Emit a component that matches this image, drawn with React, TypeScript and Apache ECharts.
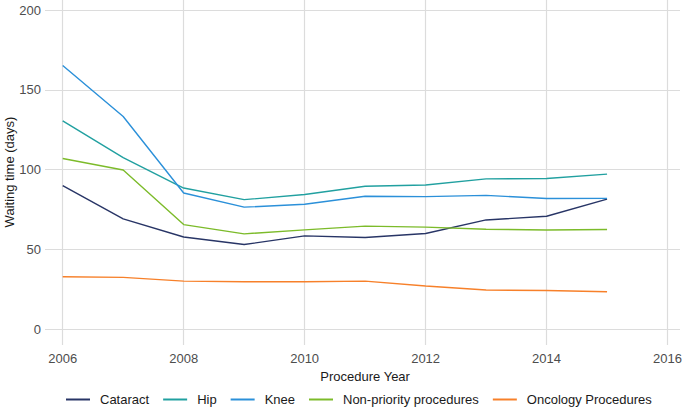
import React, { useEffect, useRef } from "react";
import * as echarts from "echarts";

const years = [2006, 2007, 2008, 2009, 2010, 2011, 2012, 2013, 2014, 2015];
const cataract = [90, 69.2, 57.8, 53.1, 58.5, 57.5, 60, 68.5, 70.8, 81.5];
const hip = [130.5, 107.5, 88.5, 81.2, 84.4, 89.6, 90.4, 94.2, 94.5, 97.2];
const knee = [165.2, 133.3, 85.4, 76.5, 78.3, 83.3, 83.1, 83.9, 81.9, 82];
const nonPriority = [107, 99.8, 65.6, 59.8, 62.3, 64.6, 64, 62.7, 62.2, 62.5];
const oncology = [32.9, 32.5, 30.2, 29.8, 29.8, 30.2, 27.1, 24.6, 24.3, 23.5];

const seriesNames = ["Cataract", "Hip", "Knee", "Non-priority procedures", "Oncology Procedures"];
const seriesValues = [cataract, hip, knee, nonPriority, oncology];
const colors = ["#283566", "#21a0a0", "#2b90d9", "#7cbb2a", "#f7802a"];

const FONT = "'Liberation Sans', Arial, sans-serif";

export default function App() {
  const ref = useRef<HTMLDivElement>(null);
  useEffect(() => {
    if (!ref.current) return;
    const chart = echarts.init(ref.current, undefined, { renderer: "svg" });
    const pxPerUnit = (329.3 - 10) / 200;
    const yMax1 = 200 + 10 / pxPerUnit;
    const yMin1 = -(345 - 329.3) / pxPerUnit;
    chart.setOption({
      animation: false,
      backgroundColor: "#ffffff",
      color: colors,
      textStyle: { fontFamily: FONT },
      grid: [
        { left: 45, right: 5, top: 10, bottom: 410 - 329.3, containLabel: false },
        { left: 62.7, right: 685 - 669.3, top: 0, bottom: 410 - 345, containLabel: false },
      ],
      xAxis: [
        { type: "value", gridIndex: 0, min: 0, max: 1, show: false },
        {
          type: "value",
          gridIndex: 1,
          min: 2006,
          max: 2016,
          interval: 2,
          name: "Procedure Year",
          nameLocation: "middle",
          nameGap: 19,
          nameTextStyle: { fontSize: 13, color: "#1a1a1a", fontFamily: FONT },
          axisLine: { show: false },
          axisTick: { show: false },
          axisLabel: {
            fontSize: 13,
            color: "#4d4d4d",
            margin: 7,
            fontFamily: FONT,
            formatter: (v: number) => String(Math.round(v)),
          },
          splitLine: { show: true, lineStyle: { color: "#dcdcdc", width: 1.2 } },
        },
      ],
      yAxis: [
        {
          type: "value",
          gridIndex: 0,
          min: 0,
          max: 200,
          interval: 50,
          axisLine: { show: false },
          axisTick: { show: false },
          axisLabel: { fontSize: 13, color: "#4d4d4d", margin: 4, fontFamily: FONT },
          splitLine: { show: true, lineStyle: { color: "#dcdcdc", width: 1.2 } },
        },
        {
          type: "value",
          gridIndex: 1,
          min: yMin1,
          max: yMax1,
          show: false,
          splitLine: { show: false },
        },
      ],
      legend: {
        left: 66,
        top: 393,
        padding: 0,
        itemWidth: 24,
        itemHeight: 2,
        itemGap: 14,
        icon: "rect",
        textStyle: { fontSize: 13, color: "#1a1a1a", fontFamily: FONT, padding: [0, 0, 0, 5] },
        data: seriesNames,
      },
      graphic: [
        {
          type: "text",
          x: 9,
          y: 172,
          rotation: Math.PI / 2,
          style: {
            text: "Waiting time (days)",
            fontSize: 13,
            fontFamily: FONT,
            fill: "#1a1a1a",
            textAlign: "center",
            textVerticalAlign: "middle",
          },
        },
      ],
      series: seriesNames.map((name, i) => ({
        name,
        type: "line",
        xAxisIndex: 1,
        yAxisIndex: 1,
        showSymbol: false,
        symbol: "none",
        lineStyle: { width: 1.4, color: colors[i] },
        itemStyle: { color: colors[i] },
        data: years.map((y, j) => [y, seriesValues[i][j]]),
      })),
    });
    return () => chart.dispose();
  }, []);
  return (
    <div
      ref={ref}
      style={{ position: "absolute", left: 0, top: 0, width: 685, height: 410 }}
    />
  );
}
